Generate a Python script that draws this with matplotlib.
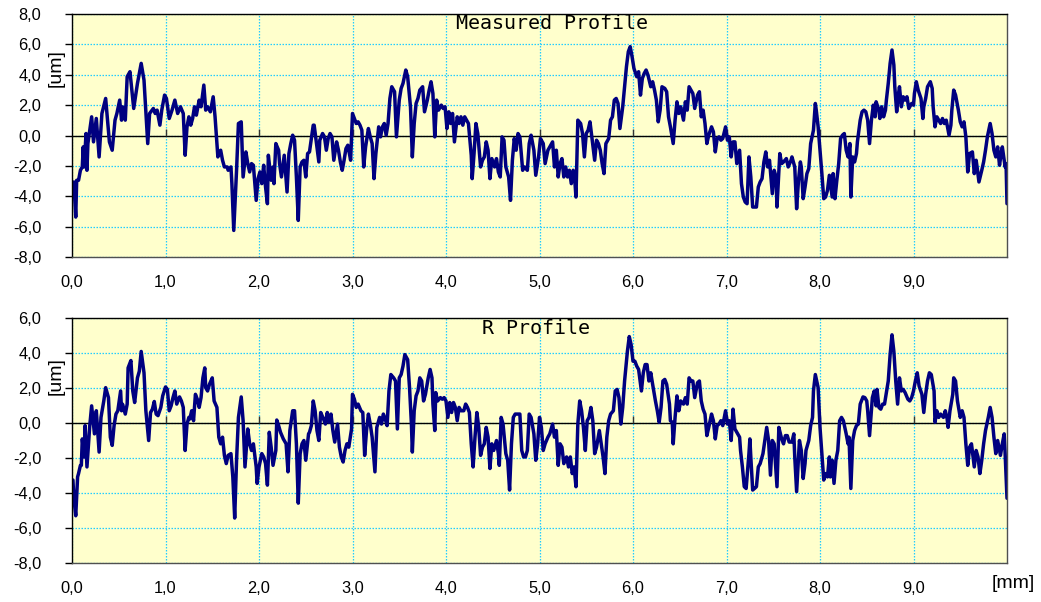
import matplotlib
matplotlib.use("Agg")
import matplotlib.pyplot as plt

# Measured profile: (position [mm], height [um])
measured = [
    (0.00, -3.61), (0.02, -3.06), (0.04, -5.37), (0.05, -2.95), (0.07, -2.95), (0.09, -2.29), (0.11, -2.07),
    (0.12, -0.75), (0.13, -2.07), (0.15, 0.13), (0.16, -2.29), (0.17, -0.53), (0.21, 1.23), (0.23, -0.42),
    (0.26, 1.12), (0.29, -1.41), (0.32, 1.45), (0.36, 2.44), (0.40, -0.42), (0.43, -0.97), (0.46, 1.01),
    (0.48, 1.45), (0.51, 2.33), (0.53, 1.01), (0.54, 1.89), (0.57, 1.01), (0.59, 3.87), (0.62, 4.20),
    (0.66, 1.78), (0.70, 3.43), (0.74, 4.75), (0.77, 3.65), (0.81, -0.53), (0.83, 1.45), (0.87, 1.78),
    (0.89, 1.45), (0.91, 1.67), (0.94, 0.68), (0.96, 1.67), (0.99, 2.66), (1.01, 2.44), (1.04, 1.12),
    (1.07, 1.67), (1.10, 2.33), (1.13, 1.45), (1.16, 1.89), (1.19, 1.45), (1.21, -1.30), (1.23, 0.57),
    (1.25, 1.23), (1.27, 0.68), (1.29, 1.12), (1.31, 1.89), (1.33, 1.34), (1.36, 2.33), (1.38, 1.89),
    (1.41, 3.32), (1.43, 1.67), (1.45, 1.89), (1.48, 1.56), (1.51, 2.55), (1.53, 1.23), (1.56, -1.41),
    (1.59, -0.97), (1.61, -1.63), (1.63, -2.07), (1.66, -2.07), (1.67, -2.29), (1.70, -2.07), (1.71, -3.17),
    (1.73, -6.25), (1.76, -2.29), (1.78, 0.79), (1.81, 0.90), (1.83, -2.73), (1.86, -1.08), (1.88, -1.85),
    (1.90, -2.40), (1.92, -1.85), (1.94, -1.96), (1.97, -4.27), (1.99, -2.84), (2.01, -2.40), (2.03, -3.17),
    (2.05, -1.96), (2.07, -3.39), (2.09, -4.49), (2.10, -1.30), (2.13, -2.95), (2.15, -2.07), (2.16, -3.17),
    (2.18, -0.53), (2.21, -0.97), (2.22, -1.85), (2.24, -2.73), (2.27, -1.30), (2.30, -3.72), (2.32, -1.19),
    (2.34, -0.53), (2.36, 0.02), (2.38, -0.31), (2.40, -2.73), (2.42, -5.59), (2.44, -2.07), (2.46, -1.74),
    (2.48, -1.63), (2.50, -2.73), (2.52, -1.19), (2.54, -1.08),
    (2.58, 0.68), (2.59, 0.68), (2.61, -0.31), (2.64, -1.74), (2.65, -0.31), (2.68, 0.13), (2.70, -0.09),
    (2.72, -0.97), (2.74, -0.20), (2.76, 0.13), (2.78, -0.09), (2.80, -1.63), (2.83, -0.42), (2.85, -0.97),
    (2.87, -1.74), (2.89, -2.29), (2.91, -1.63), (2.93, -0.86), (2.95, -0.64), (2.98, -1.63), (3.00, 1.45),
    (3.02, 1.12), (3.04, 0.79), (3.06, 0.90), (3.08, 0.68), (3.10, 0.35), (3.12, -2.07), (3.14, -0.75),
    (3.17, 0.46), (3.19, -0.09), (3.21, -0.53), (3.23, -2.84), (3.25, -1.19), (3.28, 0.57), (3.30, -0.09),
    (3.32, 0.57), (3.34, 0.79), (3.36, 0.02), (3.38, 0.79), (3.40, 2.44), (3.42, 3.21), (3.45, 2.88),
    (3.47, -0.09), (3.50, 2.33), (3.52, 3.10), (3.54, 3.43), (3.57, 4.31), (3.59, 3.87), (3.62, 1.89),
    (3.64, -1.41), (3.66, 0.79), (3.68, 2.11), (3.70, 2.44), (3.72, 2.99), (3.75, 3.21), (3.77, 1.56),
    (3.80, 2.33), (3.82, 2.99), (3.84, 3.54), (3.86, 2.77), (3.88, -0.09), (3.90, 2.33), (3.92, 1.67),
    (3.95, 2.00), (3.97, 1.78), (3.99, 1.89), (4.01, 0.46), (4.03, 1.56), (4.05, 0.79), (4.07, 1.45),
    (4.09, -0.42), (4.12, 1.23), (4.14, 0.79), (4.16, 1.23), (4.18, 0.68), (4.20, 1.23), (4.22, 1.01),
    (4.24, 0.79), (4.27, -1.30), (4.28, -2.84), (4.30, -1.19), (4.32, 0.79), (4.34, 0.13), (4.37, -2.07),
    (4.39, -1.63), (4.41, -1.41), (4.43, -0.42), (4.45, -0.97), (4.47, -2.84), (4.49, -1.52), (4.52, -2.07),
    (4.54, -1.52), (4.56, -2.40), (4.58, -2.73), (4.60, -0.09), (4.62, -0.31), (4.64, -2.07), (4.67, -2.73),
    (4.69, -4.27), (4.71, -1.63), (4.73, -0.20), (4.75, -0.97), (4.77, 0.13), (4.79, -0.09), (4.82, -2.29),
    (4.84, -2.07), (4.87, -2.29), (4.89, -0.53), (4.91, 0.02), (4.94, -0.97), (4.96, -2.62), (4.99, -1.41),
    (5.01, -0.20), (5.04, -0.53), (5.06, -1.85), (5.09, -0.97), (5.11, -0.75),
    (5.14, -0.42), (5.16, -2.07), (5.18, -0.97), (5.20, -2.73), (5.22, -1.85), (5.24, -1.52), (5.26, -2.73),
    (5.28, -2.07), (5.30, -2.73), (5.32, -2.29), (5.34, -3.17), (5.36, -2.29), (5.38, -3.17), (5.39, -4.05),
    (5.41, 1.01), (5.44, 0.79), (5.46, 0.13), (5.48, -1.41), (5.50, 0.13), (5.52, 0.35), (5.54, 0.90),
    (5.56, -0.09), (5.59, -1.63), (5.61, -0.31), (5.63, -0.53), (5.65, -0.97), (5.67, -1.85), (5.69, -2.51),
    (5.71, -0.53), (5.74, -0.20), (5.76, 1.01), (5.78, 1.23), (5.80, 2.33), (5.82, 2.44), (5.84, 2.11),
    (5.86, 0.46), (5.89, 1.89), (5.91, 3.21), (5.93, 4.53), (5.95, 5.52), (5.97, 5.85), (5.99, 5.19),
    (6.01, 4.42), (6.04, 3.87), (6.06, 4.20), (6.08, 2.66), (6.10, 3.76), (6.12, 4.09), (6.14, 4.31),
    (6.16, 3.98), (6.19, 3.21), (6.21, 3.54), (6.23, 2.99), (6.25, 2.33), (6.27, 0.90), (6.29, 1.67),
    (6.31, 3.21), (6.34, 3.10), (6.36, 2.88), (6.38, 1.23), (6.40, 0.57), (6.43, -0.53), (6.45, 1.01),
    (6.47, 2.22), (6.49, 1.45), (6.51, 1.89), (6.54, 1.01), (6.56, 2.22), (6.58, 1.67), (6.60, 3.21),
    (6.62, 2.99), (6.64, 2.77), (6.66, 1.78), (6.69, 2.66), (6.71, 2.88), (6.73, 1.23), (6.75, 1.67),
    (6.77, 0.79), (6.79, -0.53), (6.81, 0.02), (6.84, 0.57), (6.86, 0.24), (6.88, -1.08), (6.90, -0.20),
    (6.92, -0.09), (6.94, -0.31), (6.96, -0.20), (6.99, 0.57), (7.01, -0.31), (7.03, -0.09), (7.05, -1.41),
    (7.07, -0.42), (7.09, -0.42), (7.11, -1.85), (7.14, -0.97), (7.16, -3.17), (7.18, -4.05), (7.20, -4.38),
    (7.22, -4.49), (7.24, -1.41), (7.26, -2.73), (7.28, -4.71), (7.30, -4.71), (7.32, -4.71), (7.34, -3.39),
    (7.36, -3.06), (7.38, -2.84), (7.40, -1.74), (7.42, -1.08), (7.44, -2.07), (7.46, -1.63), (7.49, -3.83),
    (7.51, -2.29), (7.53, -2.73), (7.54, -4.71), (7.57, -1.19), (7.59, -1.85), (7.61, -1.74), (7.64, -1.52),
    (7.66, -2.07), (7.69, -1.63),
    (7.70, -1.41), (7.73, -2.07), (7.75, -4.82), (7.77, -2.95), (7.79, -1.74), (7.80, -2.07), (7.82, -4.16),
    (7.84, -3.39), (7.86, -2.51), (7.88, -2.18), (7.90, -0.53), (7.93, 0.35), (7.95, 2.11), (7.96, 1.67),
    (7.98, 0.57), (8.00, -0.97), (8.02, -2.51), (8.04, -4.16), (8.06, -4.05), (8.08, -3.61), (8.10, -2.62),
    (8.13, -4.05), (8.14, -2.51), (8.16, -4.16), (8.18, -2.95), (8.20, -1.85), (8.22, -0.20), (8.24, 0.02),
    (8.26, 0.13), (8.28, -0.97), (8.30, -1.41), (8.32, -0.53), (8.33, -4.05), (8.35, -1.41), (8.37, -1.74),
    (8.39, -1.19), (8.40, -0.42), (8.43, 1.01), (8.45, 1.56), (8.47, 1.67), (8.49, 1.56), (8.51, 1.01),
    (8.53, -0.53), (8.55, 1.01), (8.57, 2.00), (8.59, 1.23), (8.60, 2.22), (8.63, 1.67), (8.64, 1.12),
    (8.66, 1.89), (8.68, 1.23), (8.70, 1.67), (8.71, 2.33), (8.73, 3.43), (8.75, 4.75), (8.77, 5.63),
    (8.79, 4.64), (8.80, 3.21), (8.82, 1.56), (8.84, 2.77), (8.85, 3.21), (8.87, 1.89), (8.89, 2.55),
    (8.91, 2.33), (8.93, 2.55), (8.95, 1.78), (8.98, 2.11), (9.00, 2.00), (9.01, 2.77), (9.03, 3.54),
    (9.05, 2.99), (9.08, 2.44), (9.10, 1.12), (9.11, 1.89), (9.13, 2.44), (9.15, 3.21), (9.18, 3.54),
    (9.20, 3.10), (9.21, 1.89), (9.23, 0.57), (9.25, 1.23), (9.27, 1.01), (9.29, 0.79), (9.31, 1.12),
    (9.33, 0.79), (9.35, 1.01), (9.38, 0.02), (9.40, 0.68), (9.41, 1.67), (9.43, 2.99), (9.45, 2.66),
    (9.48, 1.67), (9.50, 0.90), (9.52, 0.57), (9.54, 0.90), (9.56, -0.09), (9.58, -2.40), (9.60, -1.19),
    (9.63, -1.08), (9.65, -2.51), (9.67, -1.63), (9.68, -2.07), (9.70, -3.06), (9.73, -2.29), (9.75, -1.74),
    (9.77, -0.97), (9.79, -0.09), (9.82, 0.79), (9.84, 0.13), (9.86, -0.97), (9.88, -1.41), (9.90, -0.75),
    (9.92, -1.96), (9.94, -1.08), (9.95, -0.75), (9.98, -2.07), (9.99, -1.85), (10.00, -4.49),
]

# Roughness (R) profile: (position [mm], height [um])
roughness = [
    (0.01, -3.26), (0.02, -4.30), (0.04, -5.30), (0.06, -3.08), (0.07, -2.89), (0.09, -2.42), (0.10, -2.42),
    (0.11, -0.91), (0.13, -1.94), (0.14, -0.15), (0.16, -2.51), (0.19, -0.15), (0.21, 0.98), (0.24, -0.62),
    (0.26, 0.70), (0.29, -1.66), (0.31, 0.32), (0.34, 1.26), (0.36, 2.02), (0.39, 1.45), (0.41, -0.81),
    (0.43, -1.28), (0.45, -0.15), (0.47, 0.51), (0.49, 0.70), (0.52, 1.83), (0.53, 0.70), (0.54, 1.08),
    (0.57, 0.51), (0.59, 1.08), (0.60, 3.15), (0.63, 3.57), (0.65, 1.83), (0.67, 1.17), (0.70, 2.58),
    (0.72, 2.96), (0.74, 4.09), (0.77, 2.87), (0.79, 0.70), (0.82, -1.00), (0.84, 0.60), (0.86, 0.79),
    (0.88, 1.23), (0.90, 0.51), (0.92, 0.42), (0.95, 0.89), (0.97, 1.55), (1.00, 2.06), (1.02, 1.92),
    (1.04, 0.70), (1.06, 0.98), (1.08, 1.45), (1.10, 1.83), (1.12, 1.08), (1.15, 1.49), (1.17, 1.26),
    (1.19, 0.89), (1.21, -1.57), (1.23, -0.06), (1.25, 0.32), (1.26, 0.23), (1.28, 0.70), (1.30, 0.13),
    (1.32, 1.64), (1.34, 1.36), (1.36, 0.89), (1.38, 1.45), (1.40, 2.58), (1.42, 3.15), (1.43, 2.02),
    (1.45, 1.83), (1.47, 2.21), (1.50, 2.58), (1.52, 1.26), (1.55, 0.89), (1.57, -0.81), (1.59, -1.19),
    (1.61, -0.81), (1.63, -1.85), (1.65, -2.32), (1.67, -1.85), (1.70, -1.75), (1.72, -3.08), (1.74, -5.43),
    (1.76, -2.13), (1.78, 0.32), (1.81, 1.49), (1.83, 0.13), (1.85, -2.51), (1.88, -0.34), (1.90, -1.19),
    (1.92, -1.57), (1.94, -1.19), (1.97, -2.51), (1.98, -3.45), (2.00, -2.51), (2.03, -1.75), (2.05, -1.94),
    (2.07, -2.32), (2.09, -3.55), (2.11, -0.53), (2.13, -1.38), (2.15, -2.42), (2.18, -1.57), (2.19, 0.17),
    (2.21, -0.15), (2.23, -0.53), (2.26, -0.91), (2.29, -1.19), (2.31, -2.79), (2.33, -0.43), (2.36, 0.70),
    (2.38, 0.70), (2.40, -1.19), (2.42, -4.58), (2.44, -1.75), (2.46, -1.19), (2.48, -1.00), (2.50, -2.13),
    (2.53, -0.62), (2.54, -0.53),
    (2.56, -0.15), (2.58, 1.26), (2.60, 0.70), (2.62, -0.43), (2.64, -1.00), (2.66, 0.60), (2.69, 0.23),
    (2.71, -0.06), (2.73, 0.60), (2.75, 0.04), (2.77, 0.51), (2.79, -0.43), (2.81, -1.09), (2.84, -0.06),
    (2.86, -1.38), (2.88, -1.94), (2.90, -2.23), (2.92, -1.57), (2.94, -1.19), (2.96, -1.38), (2.99, -0.34),
    (3.00, 1.64), (3.02, 1.36), (3.04, 0.89), (3.06, 1.08), (3.09, 0.70), (3.11, 0.60), (3.13, -1.85),
    (3.15, -0.43), (3.17, 0.51), (3.19, -0.06), (3.21, -0.81), (3.24, -2.79), (3.26, -0.25), (3.29, 0.32),
    (3.31, -0.06), (3.33, 0.51), (3.35, 0.23), (3.37, -0.15), (3.39, 1.83), (3.41, 2.77), (3.44, 2.58),
    (3.46, 2.40), (3.48, -0.34), (3.50, 2.58), (3.52, 2.77), (3.54, 3.25), (3.56, 3.91), (3.59, 3.62),
    (3.61, 2.02), (3.63, -0.06), (3.64, -1.66), (3.66, 0.70), (3.68, 1.55), (3.70, 1.83), (3.72, 2.58),
    (3.74, 2.40), (3.76, 1.26), (3.78, 1.64), (3.81, 2.58), (3.83, 3.06), (3.85, 2.58), (3.86, 1.08),
    (3.88, -0.43), (3.89, 1.74), (3.91, 1.26), (3.94, 1.45), (3.96, 1.36), (3.98, 1.45), (4.00, 1.26),
    (4.02, 0.32), (4.04, 1.17), (4.06, 0.60), (4.08, 1.17), (4.10, 0.89), (4.12, 0.13), (4.14, 0.89),
    (4.16, 0.70), (4.19, 0.70), (4.21, 1.08), (4.23, 0.89), (4.25, 0.60), (4.27, -1.19), (4.29, -2.51),
    (4.31, -0.81), (4.33, 0.60), (4.35, -0.25), (4.37, -1.85), (4.39, -1.38), (4.41, -1.19), (4.43, -0.25),
    (4.45, -0.81), (4.47, -2.60), (4.49, -1.19), (4.51, -1.57), (4.54, -1.00), (4.56, -1.75), (4.57, -2.42),
    (4.59, 0.32), (4.61, -0.06), (4.64, -1.75), (4.66, -2.13), (4.68, -3.83), (4.70, -1.19), (4.72, 0.32),
    (4.74, 0.51), (4.76, 0.51), (4.79, 0.51), (4.81, -1.57), (4.83, -1.94), (4.85, -1.94), (4.87, -1.57),
    (4.89, 0.51), (4.91, 0.32), (4.94, -0.62), (4.96, -2.13), (4.98, -1.19), (5.00, 0.32), (5.02, -0.25),
    (5.04, -1.57), (5.06, -1.19), (5.09, -0.81), (5.11, -0.62),
    (5.14, -0.06), (5.16, -0.81), (5.18, -0.43), (5.20, -2.42), (5.22, -1.19), (5.24, -1.38), (5.26, -2.32),
    (5.29, -1.94), (5.31, -2.51), (5.33, -1.94), (5.35, -2.89), (5.37, -2.51), (5.39, -3.64), (5.41, -0.06),
    (5.43, 1.26), (5.45, 0.70), (5.47, -0.25), (5.49, -1.57), (5.51, 0.13), (5.53, 0.32), (5.55, 0.89),
    (5.57, 0.13), (5.59, -1.75), (5.61, -1.38), (5.64, -0.43), (5.66, -1.19), (5.68, -1.94), (5.70, -2.89),
    (5.72, -0.81), (5.74, 0.13), (5.76, 0.51), (5.79, 0.70), (5.81, 1.83), (5.83, 1.92), (5.85, 1.45),
    (5.87, -0.06), (5.89, 0.89), (5.91, 2.40), (5.94, 4.09), (5.96, 4.94), (5.98, 4.47), (6.00, 3.53),
    (6.02, 3.53), (6.04, 3.25), (6.06, 3.06), (6.09, 1.83), (6.11, 2.87), (6.13, 3.34), (6.15, 3.34),
    (6.17, 2.40), (6.19, 2.87), (6.21, 2.21), (6.24, 1.26), (6.26, 0.70), (6.28, 0.04), (6.30, 0.89),
    (6.32, 2.40), (6.34, 2.49), (6.36, 2.21), (6.39, 1.08), (6.40, 0.13), (6.42, 0.04), (6.43, -1.19),
    (6.45, 0.32), (6.47, 1.55), (6.49, 0.70), (6.51, 1.26), (6.54, 1.08), (6.56, 1.45), (6.58, 1.08),
    (6.60, 2.58), (6.62, 2.40), (6.64, 2.40), (6.66, 1.45), (6.69, 2.30), (6.71, 2.40), (6.73, 1.26),
    (6.75, 0.79), (6.77, 0.51), (6.79, -0.72), (6.81, -0.25), (6.84, 0.51), (6.86, 0.13), (6.88, -0.91),
    (6.90, -0.15), (6.92, -0.06), (6.94, 0.13), (6.96, -0.15), (6.99, 0.70), (7.01, -0.06), (7.03, 0.13),
    (7.05, -1.00), (7.07, 0.79), (7.09, -0.34), (7.11, -0.53), (7.14, -0.81), (7.15, -1.57), (7.17, -2.51),
    (7.19, -3.64), (7.21, -3.74), (7.24, -1.75), (7.25, -0.91), (7.26, -1.94), (7.28, -3.83), (7.30, -3.74),
    (7.32, -3.64), (7.34, -2.51), (7.36, -2.32), (7.39, -1.75), (7.41, -1.00), (7.43, -0.25), (7.45, -1.00),
    (7.47, -2.98), (7.49, -1.00), (7.51, -1.19), (7.54, -3.64), (7.56, -0.25), (7.59, -0.91), (7.61, -1.19),
    (7.63, -0.72), (7.65, -0.72), (7.67, -1.09),
    (7.70, -1.09), (7.72, -0.62), (7.73, -1.94), (7.75, -3.92), (7.77, -1.94), (7.78, -1.00), (7.80, -1.57),
    (7.82, -3.17), (7.84, -2.32), (7.85, -1.57), (7.88, -1.00), (7.90, -0.15), (7.92, 0.32), (7.93, 1.83),
    (7.95, 2.77), (7.98, 2.02), (8.00, -0.25), (8.02, -1.75), (8.04, -3.26), (8.06, -2.89), (8.08, -3.08),
    (8.10, -1.94), (8.11, -3.08), (8.13, -2.13), (8.15, -3.45), (8.17, -2.13), (8.19, -1.57), (8.21, 0.13),
    (8.23, 0.32), (8.25, 0.13), (8.28, -0.62), (8.30, -1.19), (8.31, -0.81), (8.33, -3.74), (8.35, -1.00),
    (8.37, -0.43), (8.39, -0.15), (8.41, -0.06), (8.43, 1.08), (8.46, 1.49), (8.48, 1.45), (8.50, 1.26),
    (8.51, 0.70), (8.53, -0.72), (8.56, 1.45), (8.58, 1.83), (8.60, 0.98), (8.61, 1.92), (8.63, 0.89),
    (8.65, 0.79), (8.67, 1.08), (8.69, 1.08), (8.71, 1.74), (8.73, 2.40), (8.75, 3.91), (8.77, 5.04),
    (8.79, 4.09), (8.81, 2.40), (8.83, 1.08), (8.85, 2.58), (8.87, 1.83), (8.89, 1.92), (8.91, 1.74),
    (8.94, 1.36), (8.96, 1.26), (8.98, 1.45), (9.00, 1.83), (9.02, 2.40), (9.04, 2.87), (9.06, 2.11),
    (9.09, 1.64), (9.11, 0.60), (9.13, 1.64), (9.15, 2.40), (9.17, 2.87), (9.19, 2.77), (9.22, 1.83),
    (9.23, 0.04), (9.25, 0.70), (9.27, 0.32), (9.29, 0.51), (9.32, 0.32), (9.34, 0.70), (9.36, 0.23),
    (9.37, -0.25), (9.39, 0.70), (9.42, 1.64), (9.43, 2.58), (9.45, 2.40), (9.47, 1.26), (9.50, 0.32),
    (9.52, 0.70), (9.54, 0.32), (9.56, -1.19), (9.58, -2.42), (9.60, -1.38), (9.62, -1.19), (9.65, -2.51),
    (9.67, -1.57), (9.69, -1.94), (9.71, -2.89), (9.73, -2.13), (9.75, -1.19), (9.77, -0.43), (9.80, 0.32),
    (9.82, 0.89), (9.84, 0.32), (9.86, -0.81), (9.88, -1.75), (9.90, -1.00), (9.93, -1.85), (9.95, -1.19),
    (9.97, -0.62), (9.98, -1.75), (10.00, -4.30),
]

x_ticks = [0, 1, 2, 3, 4, 5, 6, 7, 8, 9]
x_tick_labels = ["0,0", "1,0", "2,0", "3,0", "4,0", "5,0", "6,0", "7,0", "8,0", "9,0"]
measured_yticks = [-8, -6, -4, -2, 0, 2, 4, 6, 8]
roughness_yticks = [-8, -6, -4, -2, 0, 2, 4, 6]

LINE = "#000080"
FACE = "#FFFFCC"
GRID = "#22CCFF"
LABEL_FONT = ["Liberation Sans", "DejaVu Sans"]
TITLE_FONT = ["DejaVu Sans Mono"]

W, H = 1041, 602
fig = plt.figure(figsize=(W / 100, H / 100), dpi=100)
fig.patch.set_facecolor("white")

ax_top = fig.add_axes([72 / W, 1 - 257 / H, 935 / W, 243 / H])
ax_bot = fig.add_axes([72 / W, 1 - 563 / H, 935 / W, 245 / H])


def fmt(v):
    return f"{v:.1f}".replace(".", ",")


def draw_panel(ax, pts, yticks, title, title_x, title_y):
    xs = [p[0] for p in pts]
    ys = [p[1] for p in pts]
    ax.set_facecolor(FACE)
    ax.set_xlim(0, 10)
    ax.set_ylim(yticks[0], yticks[-1])

    ax.set_xticks(x_ticks)
    ax.set_xticklabels(x_tick_labels, fontfamily=LABEL_FONT, fontsize=11.8)
    ax.set_yticks(yticks)
    ax.set_yticklabels([fmt(v) for v in yticks], fontfamily=LABEL_FONT, fontsize=11.8)
    ax.tick_params(axis="x", length=0, pad=13)
    ax.tick_params(axis="y", length=5, width=1, direction="out", pad=17, colors="black")

    ax.grid(True, color=GRID, linestyle=(0, (1.2, 1.2)), linewidth=0.9, zorder=0)
    ax.set_axisbelow(True)

    # zero line with small upward ticks, as an axis crossing at 0
    ax.axhline(0, color="black", linewidth=1.0, zorder=1)
    ax.plot(x_ticks[1:], [0] * (len(x_ticks) - 1), linestyle="none", marker=2,
            markersize=5, markeredgewidth=1, color="#333333", zorder=1)

    ax.plot(xs, ys, color=LINE, linewidth=2.5, solid_joinstyle="round",
            solid_capstyle="round", zorder=3)

    for name, sp in ax.spines.items():
        sp.set_linewidth(1.0)
        sp.set_color("black" if name in ("left", "top") else "#505050")
        sp.set_zorder(4)

    # title: x in data units, y in axes fraction
    ax.text(title_x, title_y, title, transform=ax.get_xaxis_transform(),
            ha="center", va="center", fontfamily=TITLE_FONT, fontsize=14.4,
            color="black", zorder=5)


draw_panel(ax_top, measured, measured_yticks, "Measured Profile", 5.13, 0.960)
draw_panel(ax_bot, roughness, roughness_yticks, "R Profile", 4.96, 0.957)

fig.text(56 / W, 1 - 68 / H, "[um]", rotation=90, ha="center", va="center",
         fontfamily=LABEL_FONT, fontsize=14)
fig.text(56 / W, 1 - 376 / H, "[um]", rotation=90, ha="center", va="center",
         fontfamily=LABEL_FONT, fontsize=14)
fig.text(1013 / W, 1 - 583 / H, "[mm]", ha="center", va="center",
         fontfamily=LABEL_FONT, fontsize=14)

fig.savefig("out.png", dpi=100)
